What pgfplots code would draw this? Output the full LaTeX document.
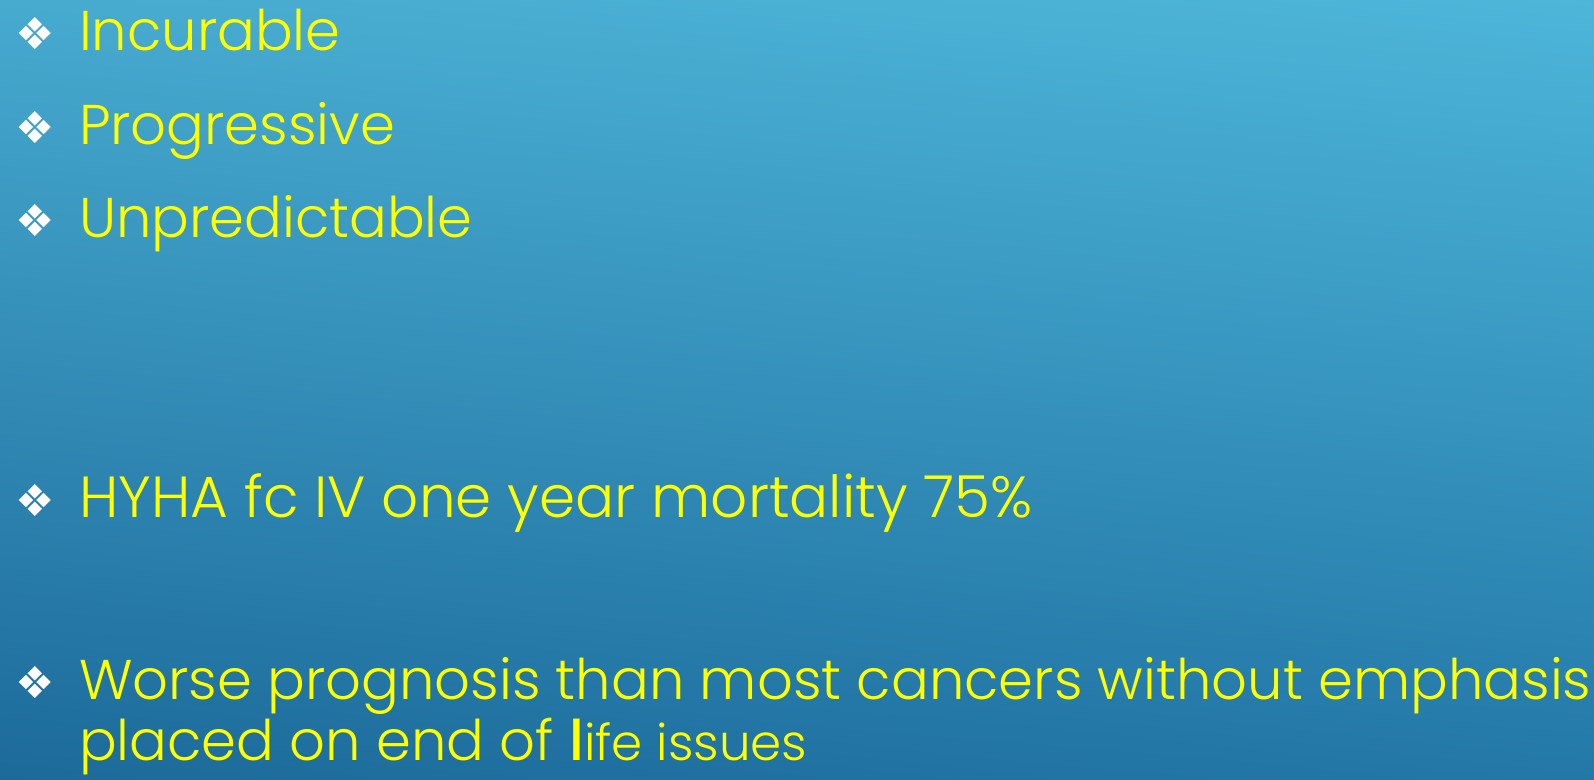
\documentclass[border=0pt]{standalone}
\usepackage{pgfplots}
\pgfplotsset{compat=1.18}
\usetikzlibrary{shadings}
\usepackage{fontspec}
\setmainfont{Poppins Light}[BoldFont={Poppins Medium}]
\newfontfamily\dejavu{DejaVu Sans}
\definecolor{txt}{HTML}{FFFF00}
\definecolor{bgTL}{HTML}{47AACF}
\definecolor{bgTR}{HTML}{4DB6D9}
\definecolor{bgBL}{HTML}{1C6A9A}
\definecolor{bgBR}{HTML}{2378A8}
\newcommand{\bul}{{\dejavu\fontsize{22bp}{22bp}\selectfont\color{white}❖}}
\begin{document}
\begin{tikzpicture}
\useasboundingbox (0,0) rectangle (797bp,390bp);
\begin{axis}[width=797bp,height=390bp,scale only axis,hide axis,
  xmin=0,xmax=1594,ymin=0,ymax=780,y dir=reverse,clip=false]
\shade[upper left=bgTL,upper right=bgTR,lower left=bgBL,lower right=bgBR]
  (axis cs:0,0) rectangle (axis cs:1594,780);
\pgfplotsset{every node/.append style={inner sep=0pt,outer sep=0pt}}
\foreach \yy in {50,144,237,517,699}{
  \edef\tmp{\noexpand\node[anchor=center] at (axis cs:35,\yy-16) {\noexpand\bul};}\tmp
}
\node[anchor=base west,text=txt,font=\fontsize{28bp}{28bp}\selectfont] at (axis cs:72,50) {Incurable};
\node[anchor=base west,text=txt,font=\fontsize{28bp}{28bp}\selectfont] at (axis cs:72,144) {Progressive};
\node[anchor=base west,text=txt,font=\fontsize{28bp}{28bp}\selectfont] at (axis cs:72,237) {Unpredictable};
\node[anchor=base west,text=txt,font=\fontsize{29bp}{29bp}\selectfont] at (axis cs:72,517) {HYHA fc IV one year mortality 75\%};
\node[anchor=base west,text=txt,font=\fontsize{28bp}{28bp}\selectfont] at (axis cs:72,699) {Worse prognosis than most cancers without emphasis};
\node[anchor=base west,text=txt,font=\fontsize{28bp}{28bp}\selectfont] at (axis cs:72,760) {placed on end of {\bfseries l}{\fontsize{25bp}{25bp}\selectfont ife issues}};
\end{axis}
\end{tikzpicture}
\end{document}
